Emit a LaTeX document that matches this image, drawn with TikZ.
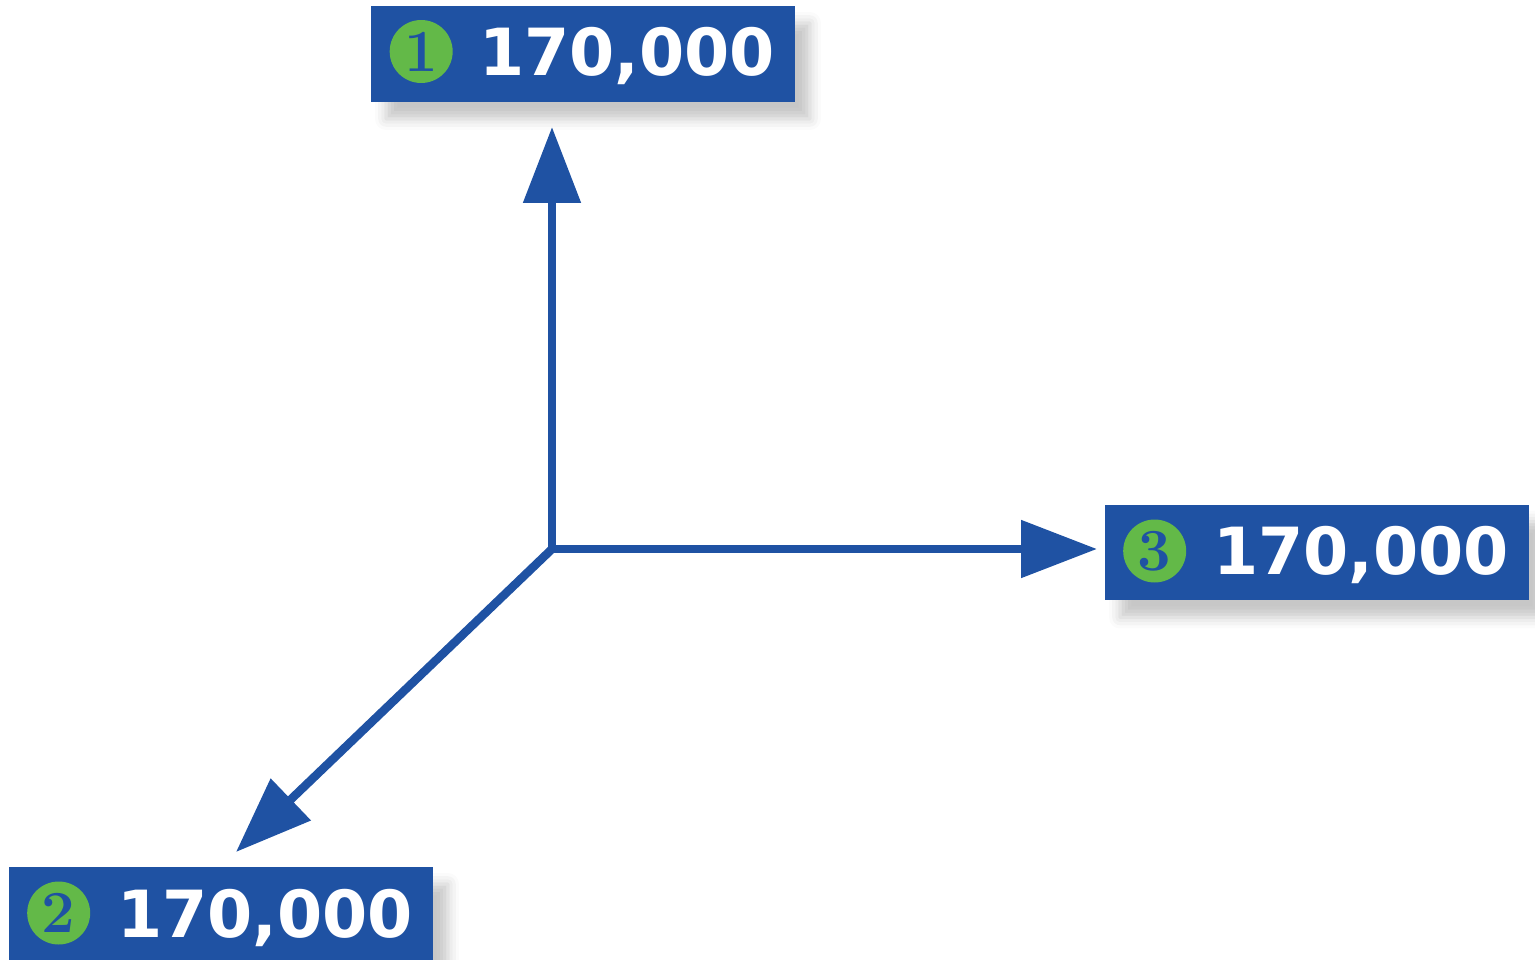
\documentclass[tikz,border=0pt]{standalone}
\usepackage{fontspec}
\newfontfamily\valfont{DejaVu Sans}
\usetikzlibrary{arrows.meta,shadows.blur}
\definecolor{axisblue}{RGB}{31,82,163}
\definecolor{dotgreen}{RGB}{99,185,72}
\begin{document}
\begin{tikzpicture}[x=0.02cm,y=-0.02cm,
  valbox/.style={fill=axisblue,minimum width=8.48cm,minimum height=1.92cm,inner sep=0pt,
    blur shadow={shadow xshift=0.3cm,shadow yshift=-0.34cm,shadow blur radius=0.22cm,shadow opacity=22}},
  numdot/.style={circle,fill=dotgreen,minimum size=1.26cm,inner sep=0pt,text=axisblue,font=\bfseries\fontsize{34}{34}\selectfont},
  valtext/.style={anchor=base west,inner sep=0pt,text=white,font=\valfont\bfseries\fontsize{37}{37}\selectfont},
  axis/.style={draw=axisblue,line width=0.17cm,line join=miter}]
\useasboundingbox (0,0) rectangle (1535,960);
% value boxes
\node [valbox] (box1) at (583,54) {};
\node [valbox] (box2) at (221,915) {};
\node [valbox] (box3) at (1317,552.5) {};
\node [numdot] (num1) at ([xshift=1.01cm,yshift=0.05cm]box1.west) {1};
\node [numdot] (num2) at ([xshift=1.0cm,yshift=0.04cm]box2.west) {2};
\node [numdot] (num3) at ([xshift=1.0cm,yshift=0.03cm]box3.west) {3};
\node [valtext] (val1) at ([xshift=2.16cm,yshift=-0.44cm]box1.west) {170,000};
\node [valtext] (val2) at ([xshift=2.16cm,yshift=-0.44cm]box2.west) {170,000};
\node [valtext] (val3) at ([xshift=2.16cm,yshift=-0.44cm]box3.west) {170,000};
% axes
\coordinate (o) at (552,549);
\coordinate (tip1) at (552,127);
\coordinate (tip2) at (236,852);
\coordinate (tip3) at (1097,549);
\draw [axis,{Triangle[length=1.52cm,width=1.12cm]}-{Triangle[length=1.52cm,width=1.12cm]}] (tip1) -- (o) -- (tip3);
\draw [axis,-{Triangle[length=1.52cm,width=1.12cm]}] (o) -- (tip2);
\end{tikzpicture}
\end{document}
